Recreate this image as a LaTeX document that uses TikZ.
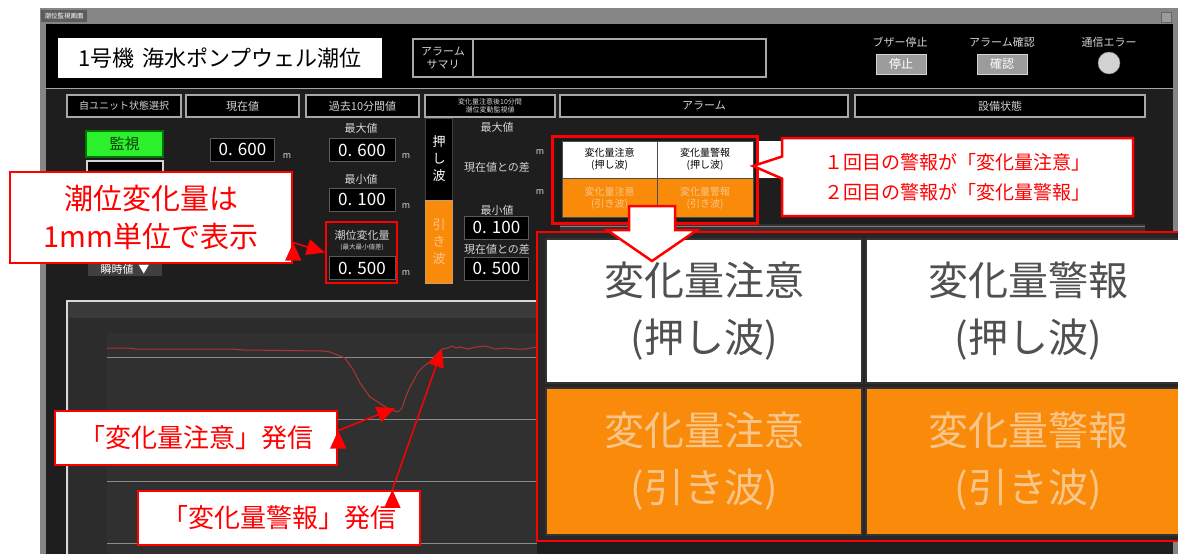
\documentclass[tikz,border=0pt]{standalone}
\usepackage{fontspec}
\setmainfont{Noto Sans CJK JP}
\usepackage{tikz}
\usetikzlibrary{positioning, arrows.meta, shapes.callouts, calc}
\definecolor{winframe}{HTML}{858585}
\definecolor{winbg}{HTML}{1E1E1E}
\definecolor{tabgray}{HTML}{5C5C5C}
\definecolor{uitext}{HTML}{D4D4D4}
\definecolor{uiline}{HTML}{A8A8A8}
\definecolor{valline}{HTML}{5A5A5A}
\definecolor{btngray}{HTML}{9C9C9C}
\definecolor{alarmorange}{HTML}{FA8A0A}
\definecolor{pulltext}{HTML}{F8C68A}
\definecolor{callred}{HTML}{FF0000}
\definecolor{monigreen}{HTML}{2CF02C}
\definecolor{monidark}{HTML}{0B3D0B}
\definecolor{chartbg}{HTML}{3A3A3A}
\definecolor{innerbg}{HTML}{2C2C2C}
\definecolor{plotbg}{HTML}{303030}
\definecolor{gridgray}{HTML}{8A8A8A}
\definecolor{trendred}{HTML}{B03434}
\definecolor{bigtext}{HTML}{505050}

\begin{document}
\begin{tikzpicture}[x=1pt,y=-1pt]
		\tikzstyle{tab} = [fill=tabgray, text=white, inner sep=0, minimum width=46, minimum height=12, font=\fontsize{6.5}{7}\selectfont]
		\tikzstyle{hdr} = [draw=uiline, line width=1.2, fill=black, text=uitext, inner sep=0, minimum height=22, font=\fontsize{11}{12}\selectfont]
		\tikzstyle{lbl} = [text=uitext, inner sep=0, font=\fontsize{11}{12}\selectfont]
		\tikzstyle{munit} = [text=uitext, inner sep=0, font=\fontsize{9}{10}\selectfont]
		\tikzstyle{valbox} = [fill=black, draw=valline, line width=1, text=white, inner sep=0, minimum width=64, minimum height=23, font=\fontsize{17}{18}\selectfont]
		\tikzstyle{btn} = [fill=btngray, draw=uitext, line width=1, text=white, inner sep=0, minimum width=50, minimum height=20, font=\fontsize{12}{13}\selectfont]
		\tikzstyle{wave} = [inner sep=0, minimum width=27, align=center, font=\fontsize{13}{17}\selectfont]
		\tikzstyle{cell} = [inner sep=0, draw=black!70, line width=1, align=center, font=\fontsize{10}{12}\selectfont]
		\tikzstyle{bigcell} = [inner sep=0, draw=black!80, line width=1.5, align=center, font=\fontsize{40}{57}\selectfont]
		\tikzstyle{redframe} = [draw=callred, line width=2.5, inner sep=0]
		\tikzstyle{note} = [fill=white, draw=callred, line width=2.5, text=callred, inner sep=0, align=center]
		\tikzstyle{redarrow} = [callred, line width=1.5, -{Triangle[length=18pt,width=16pt]}]
		
		\useasboundingbox (0,0) rectangle (1178,554);
		\fill [white] (0,0) rectangle (1178,554);
		\fill [winframe] (40,8) rectangle (1178,554);
		\fill [black] (46,24) rectangle (1173,88);
		\fill [winbg] (46,88) rectangle (1173,554);
		\draw [gray!70, line width=1] (46,88.5) -- (1173,88.5);
		\node [tab] (tab) at (64,16) {潮位監視画面};
		\node [draw=black!60, fill=btngray, minimum size=10, inner sep=0] (icon) at (1166,17) {};
		
		\node [fill=white, inner sep=0, minimum width=324, minimum height=40, font=\fontsize{22}{24}\selectfont] (title) at (220,58) {1号機\hspace{8pt}海水ポンプウェル潮位};
		\node [hdr, minimum width=60, minimum height=38, align=center, font=\fontsize{11}{13}\selectfont] (sumlbl) at (443,58) {アラーム\\サマリ};
		\node [hdr, minimum width=293, minimum height=38] (sumbox) at (619.5,58) {};
		\node [lbl] (buzlbl) at (900,42) {ブザー停止};
		\node [btn] (buzbtn) at (901,64) {停止};
		\node [lbl] (acklbl) at (1002,42) {アラーム確認};
		\node [btn] (ackbtn) at (1002,64) {確認};
		\node [lbl] (commlbl) at (1109,42) {通信エラー};
		\node [circle, fill=gray!35, draw=gray, minimum size=22, inner sep=0] (commled) at (1109,63) {};
		
		\node [hdr, minimum width=114, font=\fontsize{10}{11}\selectfont] (hunit) at (124,106) {自ユニット状態選択};
		\node [hdr, minimum width=113] (hnow) at (242.5,106) {現在値};
		\node [hdr, minimum width=113] (hpast) at (362.5,106) {過去10分間値};
		\node [hdr, minimum width=130, align=center, font=\fontsize{7}{8}\selectfont] (hwatch) at (490,106) {変化量注意後10分間\\潮位変動監視値};
		\node [hdr, minimum width=288] (halarm) at (704,106) {アラーム};
		\node [hdr, minimum width=290] (hequip) at (1000,106) {設備状態};
		
		\node [fill=monigreen, draw=green!45!black, line width=1.5, text=monidark, inner sep=0, minimum width=77, minimum height=26, font=\fontsize{15}{16}\selectfont] (mon) at (124.5,144) {監視};
		\node [fill=black, draw=uitext, line width=1.2, inner sep=0, minimum width=76, minimum height=14] (btn2) at (125,168) {};
		\node [fill=gray!50!black, text=white, inner sep=0, minimum width=74, minimum height=14, font=\fontsize{11}{12}\selectfont] (mode) at (125,269) {瞬時値\ \ ▼};
		
		\node [valbox] (nowv) at (242.5,149.5) {0. 600};
		\node [munit] (nowm) at (287,156) {m};
		
		\node [lbl] (maxlbl) at (361,128) {最大値};
		\node [valbox, minimum width=66] (maxv) at (362,150) {0. 600};
		\node [munit] (maxm) at (406,156) {m};
		\node [lbl] (minlbl) at (361,179) {最小値};
		\node [valbox, minimum width=66] (minv) at (362,199.5) {0. 100};
		\node [munit] (minm) at (406,206) {m};
		\node [lbl] (chglbl) at (362,235) {潮位変化量};
		\node [lbl, font=\fontsize{6.5}{7}\selectfont] (chgsub) at (362,247) {(最大最小値差)};
		\node [valbox, minimum width=66] (chgv) at (362,268) {0. 500};
		\node [munit] (chgm) at (406,273) {m};
		\node [redframe, minimum width=71, minimum height=61] (chgred) at (361.5,252.5) {};
		
		\node [wave, fill=black, draw=black!75, text=white, minimum height=82] (push) at (439,159) {押\\し\\波};
		\node [wave, fill=alarmorange, draw=pulltext!80!black, text=pulltext, minimum height=83] (pull) at (439,241.5) {引\\き\\波};
		\node [lbl] (wmaxlbl) at (497,127) {最大値};
		\node [lbl] (wdiff1) at (497,167) {現在値との差};
		\node [munit] (wm1) at (540,152) {m};
		\node [munit] (wm2) at (540,192) {m};
		\node [lbl] (wminlbl) at (497,210) {最小値};
		\node [valbox] (wminv) at (496.5,227.5) {0. 100};
		\node [lbl] (wdiff2) at (497,249) {現在値との差};
		\node [valbox] (wdiffv) at (496.5,268.5) {0. 500};
		
		\fill [black!90] (556,139) rectangle (758,221);
		\fill [white] (757,141) rectangle (790,178);
		\fill [black!80] (560,224) rectangle (1145,234);
		\draw [gray, line width=1] (560,226) -- (1145,226);
		\node [cell, fill=white, text=black, minimum width=95, minimum height=37] (c11) at (609.5,159.5) {変化量注意\\(押し波)};
		\node [cell, fill=white, text=black, minimum width=96, minimum height=37] (c12) at (705,159.5) {変化量警報\\(押し波)};
		\node [cell, fill=alarmorange, text=pulltext, minimum width=95, minimum height=39] (c21) at (609.5,198) {変化量注意\\(引き波)};
		\node [cell, fill=alarmorange, text=pulltext, minimum width=96, minimum height=39] (c22) at (705,198) {変化量警報\\(引き波)};
		\node [redframe, minimum width=205, minimum height=87] (alarmred) at (655,180) {};
		
		\node [note, rectangle callout, callout absolute pointer={(753,166)}, callout pointer width=22, minimum width=351, minimum height=78, font=\fontsize{19}{30}\selectfont] (note2) at (957.5,177) {１回目の警報が「変化量注意」\\２回目の警報が「変化量警報」};
		
		\fill [chartbg] (67,300) rectangle (537,554);
		\draw [gray!30, line width=1.5] (67,554) -- (67,301) -- (537,301);
		\fill [innerbg] (69,318) rectangle (537,554);
		\fill [plotbg] (107,333) rectangle (537,554);
		\draw [gridgray, line width=0.8] (107,357) -- (537,357);
		\draw [gridgray, line width=0.8] (107,419) -- (537,419);
		\draw [gridgray, line width=0.8] (107,481) -- (537,481);
		\draw [gridgray, line width=0.8] (107,543) -- (537,543);
		\draw [trendred, line width=1] (107,348) -- (130,348) -- (135,349) -- (230,349) -- (245,350) -- (323,351) -- (330,352) -- (340,356) -- (345,358) -- (352,368) -- (356,375) -- (360,383) -- (365,390) -- (370,397) -- (378,402) -- (387,408) -- (392,410) -- (398,412) -- (402,408) -- (406,396) -- (410,387) -- (414,380) -- (418,372) -- (424,366) -- (430,362) -- (435,356) -- (442,349) -- (448,348) -- (452,346) -- (456,348) -- (460,347) -- (468,349) -- (476,347) -- (485,346) -- (495,349) -- (505,348) -- (515,349) -- (525,349) -- (537,347);
		
		\node [note, minimum width=282, minimum height=91, font=\fontsize{29}{38}\selectfont] (note1) at (151,217.5) {潮位変化量は\\1mm単位で表示};
		\draw [redarrow] (note1.-10) edge (chgred.west);
		
		\node [note, minimum width=282, minimum height=54, font=\fontsize{26}{28}\selectfont] (ev1) at (196,438) {「変化量注意」発信};
		\node [note, minimum width=282, minimum height=54, font=\fontsize{26}{28}\selectfont] (ev2) at (279,518) {「変化量警報」発信};
		\coordinate (dip) at (395,408);
		\coordinate (rise) at (442,349);
		\draw [redarrow] (ev1.3) edge (dip);
		\draw [redarrow] (ev2.14) edge (rise);
		
		\node [fill=black!85, draw=callred, line width=2.5, inner sep=0, minimum width=646, minimum height=309] (bigpanel) at (860,386.5) {};
		\node [bigcell, fill=white, text=bigtext, minimum width=316, minimum height=144] (b11) at (704,311) {変化量注意\\(押し波)};
		\node [bigcell, fill=white, text=bigtext, minimum width=324, minimum height=144] (b12) at (1028,311) {変化量警報\\(押し波)};
		\node [bigcell, fill=alarmorange, text=pulltext, minimum width=316, minimum height=147] (b21) at (704,461.5) {変化量注意\\(引き波)};
		\node [bigcell, fill=alarmorange, text=pulltext, minimum width=324, minimum height=147] (b22) at (1028,461.5) {変化量警報\\(引き波)};
		
		\draw [fill=white, draw=callred, line width=2.5] (629,206) -- (675,206) -- (675,230) -- (697,230) -- (652,261) -- (607,230) -- (629,230) -- cycle;
		\end{tikzpicture}
\end{document}
